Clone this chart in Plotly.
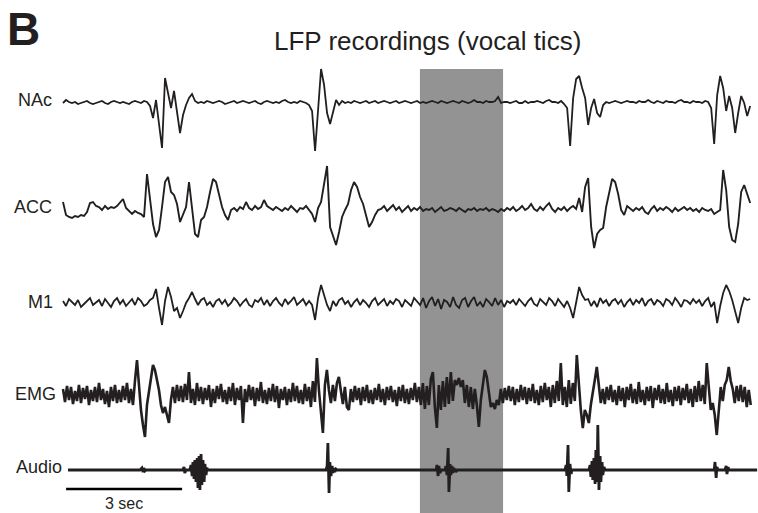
import numpy as np
import plotly.graph_objects as go

# ---------------- data (amplitudes in arbitrary display units, time in s) ----
dt_lfp = 0.0776   # s between LFP samples
dt_emg = 0.0517   # s between EMG samples

nac = [0, 3, 1, 0, 1, -1, 0, 1, 2, 0,
       -1, 0, 1, 2, 0, -1, 1, 2, 1, 0,
       1, 0, -1, 1, 2, 1, 0, 2, 1, -3,
       -15, 3, -20, -45, 25, 8, -5, 12, -8, -30,
       -12, -2, 5, 9, 2, 0, 1, 0, 2, 1,
       0, 1, 2, 1, -1, 0, 1, 2, 0, 1,
       2, 1, 0, 1, 2, 0, -1, 1, 2, 1,
       0, 1, 0, 2, 3, 1, 0, 1, 0, 2,
       1, 0, -2, -8, -48, -5, 34, 18, -10, -21,
       -8, 3, -2, 2, 0, 1, 0, 2, 1, 0,
       1, 2, 0, 1, 2, 0, 1, 2, 1, 0,
       1, 2, 0, 1, 2, 1, 0, 1, 2, 0,
       1, 0, 1, 2, 1, 0, 2, 1, 0, 1,
       2, 1, 0, 2, 1, 0, 1, 3, 1, 1,
       0, 2, 1, 1, 2, 6, 0, 1, 1, 0,
       1, 2, 0, 0, 2, 0, 1, 1, 2, 1,
       0, 2, 3, 1, 1, 0, 2, -1, -5, -43,
       5, 24, 27, 15, 5, -22, -5, 4, -10, -14,
       -2, 1, 0, 1, 2, 1, 0, 1, 2, 1,
       1, 0, 2, 1, 1, 3, 1, 0, 2, 1,
       0, 2, 1, 1, 0, 2, 3, 1, 1, 0,
       2, 1, 1, 0, 2, 1, -5, -41, 8, 27,
       15, -8, 7, -5, -30, -10, 7, 0, -13, -3]

acc = [10, -3, -5, -6, -4, -5, -3, -4, 0, 9,
       10, 6, 5, 2, 6, 3, 5, 4, 6, 9,
       13, 4, 1, -2, 1, -1, -2, -5, 38, 10,
       -12, -25, -18, 5, 30, 35, 20, 17, 8, -10,
       -3, 5, 30, 5, -22, -25, -8, -5, 5, 20,
       33, 30, 18, 5, -3, -8, 2, 4, 1, 5,
       3, 10, 4, 2, 6, 3, 5, 12, 6, 4,
       2, 5, 3, 1, 4, 2, 6, 3, 0, 4,
       3, 6, 2, -2, -10, 4, 10, 30, 46, -15,
       -25, -33, -20, -5, 2, 8, 22, 30, 25, 15,
       8, -5, -15, -10, -3, 2, 3, 6, 1, 4,
       7, 2, 5, 0, 3, 6, 1, 4, 2, 5,
       1, 3, 2, 4, 0, 3, 5, 1, 2, 4,
       3, 1, 4, 2, 0, 3, 2, 4, 1, 3,
       2, 4, 1, 3, 2, 0, 3, 1, 4, 2,
       5, 1, 3, 6, 2, 4, 8, 3, 1, 5,
       2, 6, 9, 3, 0, 4, 2, 5, 1, 4,
       6, 3, 14, 0, 25, 34, -15, -36, -22, -18,
       -16, 5, 20, 33, 30, 18, 2, -3, 6, 3,
       1, 4, 2, 5, 0, -2, 3, 6, 1, 4,
       2, 5, 3, 0, 4, 1, 3, 5, 2, 4,
       1, 3, 0, 4, 2, 1, 3, -2, 0, 2,
       42, 22, -15, -28, -30, -12, 20, 27, 18, 9]

m1 = [2, -3, 4, 1, -2, 3, -4, -1, 2, 5,
      -2, 1, 3, -3, 4, 0, -4, 2, 5, -1,
      3, -3, 1, 4, -2, 5, 2, -3, -1, 3,
      5, 14, -5, -22, 2, 16, 6, -8, -5, -15,
      -8, 0, 5, 11, 4, -2, 3, 5, -2, 1,
      -4, 2, 4, -1, 3, -3, 0, 5, 2, -3,
      1, 4, -2, -4, 3, 1, 5, -2, 3, -3,
      2, 5, 0, -3, 4, -1, 2, 6, -2, 1,
      4, -2, 2, -2, -17, 5, 18, 8, -2, -8,
      2, -3, 3, 5, -1, 2, -4, 1, 4, -2,
      3, 0, -4, 2, 5, -2, 1, 4, -3, 2,
      -1, 4, 2, -4, 3, 0, -3, 5, 2, -2,
      5, -5, 2, 6, -3, 4, -6, 3, 1, -4,
      6, -2, -5, 3, 5, -4, 2, 6, -3, 1,
      -4, 4, 1, -3, 5, -2, 3, -4, 2, 0,
      3, -2, 4, 1, -3, 2, 5, -1, -3, 4,
      1, -2, 5, 2, -3, 4, 0, -4, 2, -5,
      -15, 2, 16, 8, 3, 4, -3, 2, -4, 5,
      0, 3, -3, 2, 4, -1, 3, -4, 1, 4,
      -2, 3, 0, 5, -3, 2, 4, -2, 3, 1,
      -3, 4, 2, -2, 5, 1, -4, 3, 2, -1,
      4, 0, 3, -3, 2, 5, -4, 1, -20, -3,
      10, 18, 12, 3, -10, -20, -5, 5, 3, 4]

emg = [6, -7, 9, -5, 8, -9, 4, -6, 10, -8,
       7, -4, 9, -10, 5, -6, 8, -7, 12, -5,
       6, -9, 4, -12, 8, -6, 10, -8, 5, -7,
       9, -5, 12, -8, 6, -10, 14, 35, 10, -15,
       -30, -42, -10, 5, 20, 30, 25, 15, 5, -10,
       -18, -12, -20, -28, -5, 8, -8, 10, -6, 9,
       -7, 11, -5, 23, -8, 6, -10, 12, -6, 8,
       -9, 7, -5, 10, -12, 6, -8, 9, -4, 11,
       -7, 5, -9, 8, -6, 12, -10, 7, -5, 9,
       -28, 6, -7, 10, -5, 8, -11, 7, -6, 13,
       -8, 5, -9, 7, -6, 11, -7, 9, -13, 6,
       -5, 8, -10, 6, -7, 12, -6, 9, -8, 5,
       -9, 11, -6, 8, -12, 14, -7, 37, 5, -20,
       -38, 10, 25, 5, -8, 10, -6, 12, 18, 4,
       -9, 8, -12, -15, 6, -7, 9, -5, 7, -10,
       8, -6, 10, -8, 5, -9, 7, -5, 11, -7,
       6, -10, 8, -5, 9, -7, 5, -11, 8, -6,
       10, -8, 6, -9, 7, -5, 12, -7, 8, -10,
       12, -14, 9, -10, 16, 23, -12, -33, 10, -15,
       14, -12, 18, -9, 23, -6, 15, 10, 17, 8,
       15, -8, 10, -12, 8, -14, 6, -10, -32, -5,
       12, 25, 18, 5, -12, -8, -14, -5, -10, 6,
       -8, 7, -5, 9, -6, 8, -10, 6, -7, 10,
       -5, 8, -9, 7, -6, 11, -8, 5, -10, 9,
       -7, 12, -5, 8, -12, 10, -8, 14, -6, 32,
       -10, 8, -12, 15, -9, 12, -6, 40, 10, -15,
       -33, -15, -20, -28, -10, 5, 15, 28, 8, -8,
       6, -9, 8, -5, 10, -7, 5, -10, 9, -6,
       7, -12, 8, -5, 11, -8, 6, -9, 13, -7,
       5, -10, 8, -6, 9, -13, 7, -5, 10, -8,
       6, -9, 12, -7, 5, -11, 8, -6, 9, -10,
       7, -5, 11, -8, 6, -12, 9, -7, 14, -6,
       10, -9, 32, 12, -15, -8, -20, -40, -12, 8,
       -6, 10, 15, 28, 14, 6, -8, 9, -6, 10,
       -7, 8, -12, 5, -10]

audio_t = [0.13, 1.99, 2.04, 2.07, 2.09, 2.12, 2.15,
           3.10, 3.13, 3.15, 3.18,
           3.28, 3.31, 3.34, 3.36, 3.39, 3.41, 3.44, 3.47, 3.49, 3.52,
           3.54, 3.57, 3.59, 3.62, 3.65, 3.67, 3.70, 3.72, 3.75,
           6.80, 6.83, 6.85, 6.88, 6.90, 6.93, 6.96, 6.98, 7.01, 7.03, 7.06, 7.09,
           9.65, 9.67, 9.70, 9.72, 9.75, 9.78,
           9.88, 9.90, 9.93, 9.96, 9.98, 10.01, 10.03, 10.06, 10.08, 10.11, 10.16, 10.19,
           12.98, 13.01, 13.03, 13.06, 13.08, 13.11, 13.14, 13.16,
           13.60, 13.63, 13.65, 13.68, 13.70, 13.73, 13.76, 13.78, 13.81,
           13.83, 13.86, 13.89, 13.91, 13.94, 13.96, 13.99, 14.02,
           16.84, 16.86, 16.89, 16.91, 16.94,
           17.12, 17.15, 17.17, 17.20, 17.22,
           17.95]
audio_v = [0, 0, 2, -2, 2, -1, 0,
           0, 3, -3, 0,
           0, 5, -6, 8, -9, 10, -12, 12, -18, 14,
           -20, 16, -15, 10, -12, 6, -5, 2, 0,
           0, 4, 27, -23, 8, -6, 4, -3, 2, -2, 1, 0,
           0, 5, -6, 4, -3, 0,
           0, 4, -5, 22, -22, 6, -5, 4, -3, 2, -2, 0,
           0, 5, -6, 25, -22, 6, -4, 0,
           0, 5, -7, 9, -10, 12, -14, 20, -12,
           45, -20, 14, -12, 8, -5, 3, 0,
           0, 8, -8, 3, 0,
           0, 4, -4, 3, 0,
           0]

channels = ["NAc", "ACC", "M1", "EMG", "Audio"]
scale_bar_sec = 3
shaded_window = (9.23, 11.38)   # s, LFP segment highlighted

# ---------------- layout helpers (pixel geometry of the canvas) ----------
W, H = 758, 513
px_per_sec = 38.67
x0_px = 63
baseline = {"NAc": 103, "ACC": 212, "M1": 303, "EMG": 395, "Audio": 470}
line_col = "#231f20"

def t_of(px):
    return (px - x0_px) / px_per_sec

fig = go.Figure()

series = [("NAc", nac, dt_lfp, 1.8), ("ACC", acc, dt_lfp, 1.9),
          ("M1", m1, dt_lfp, 1.8), ("EMG", emg, dt_emg, 2.6)]
for name, vals, dt, lw in series:
    t = np.arange(len(vals)) * dt
    fig.add_trace(go.Scatter(x=t, y=np.array(vals) - baseline[name], mode="lines",
                             line=dict(color=line_col, width=lw), showlegend=False,
                             hoverinfo="skip"))

fig.add_trace(go.Scatter(x=audio_t, y=np.array(audio_v) - baseline["Audio"], mode="lines",
                         line=dict(color=line_col, width=2.8), showlegend=False,
                         hoverinfo="skip"))

# scale bar
sb_t0 = 0.08
fig.add_trace(go.Scatter(x=[sb_t0, sb_t0 + scale_bar_sec], y=[-489, -489], mode="lines",
                         line=dict(color="#000000", width=2.5), showlegend=False,
                         hoverinfo="skip"))

fig.add_shape(type="rect", xref="x", yref="y", x0=shaded_window[0], x1=shaded_window[1],
              y0=-H - 5, y1=-69, fillcolor="#939393", line=dict(width=0), layer="below")

font_family = "Liberation Sans, Arial, sans-serif"
label_right = {"NAc": 54, "ACC": 54, "M1": 55, "EMG": 58, "Audio": 64}
label_y = {"NAc": 100, "ACC": 207, "M1": 302, "EMG": 394, "Audio": 467}
for ch in channels:
    fig.add_annotation(x=label_right[ch] / W, y=1 - label_y[ch] / H, xref="paper", yref="paper",
                       text=ch, showarrow=False, xanchor="right", yanchor="middle",
                       font=dict(family=font_family, size=18, color=line_col))

fig.add_annotation(x=(sb_t0 + scale_bar_sec / 2), y=-503, xref="x", yref="y",
                   text=f"{scale_bar_sec} sec", showarrow=False, xanchor="center",
                   yanchor="middle", font=dict(family=font_family, size=16, color=line_col))

fig.add_annotation(x=427 / W, y=1 - 41 / H, xref="paper", yref="paper",
                   text="LFP recordings (vocal tics)", showarrow=False, xanchor="center",
                   yanchor="middle", font=dict(family=font_family, size=26, color=line_col))

fig.add_annotation(x=5 / W, y=1 - 29 / H, xref="paper", yref="paper",
                   text="<b>B</b>", showarrow=False, xanchor="left", yanchor="middle",
                   font=dict(family=font_family, size=46, color=line_col))

fig.update_layout(width=W, height=H, margin=dict(l=0, r=0, t=0, b=0),
                  paper_bgcolor="white", plot_bgcolor="white",
                  xaxis=dict(range=[t_of(0), t_of(W)], visible=False, fixedrange=True),
                  yaxis=dict(range=[-H, 0], visible=False, fixedrange=True))

fig.write_html("out.html", config={"displayModeBar": False},
               post_script="document.body.style.margin='0';document.body.style.overflow='hidden';")
